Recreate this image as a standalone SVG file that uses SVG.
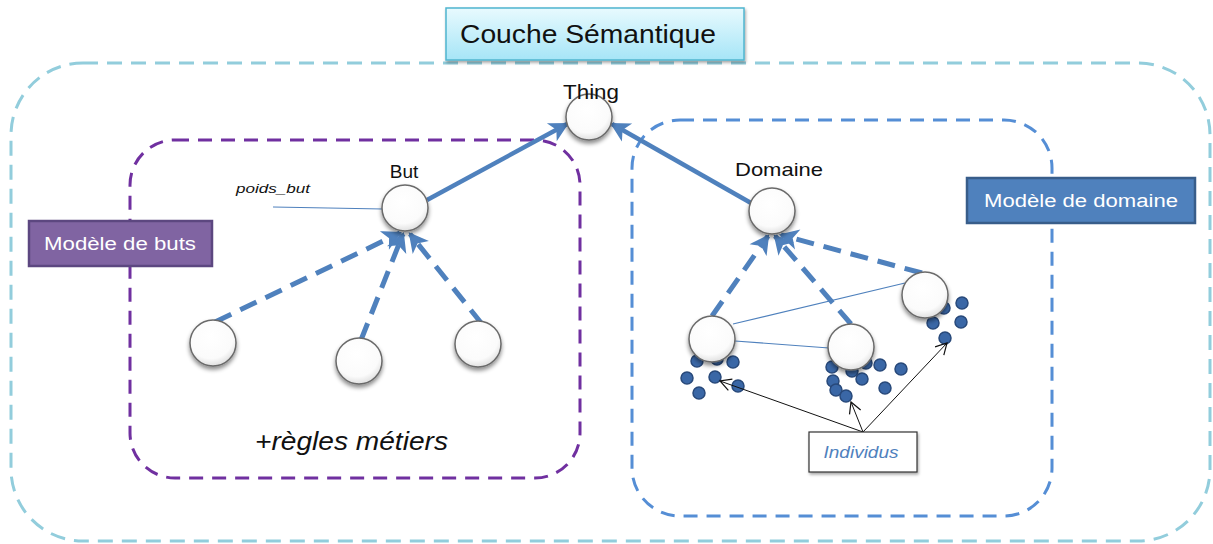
<svg xmlns="http://www.w3.org/2000/svg" width="1213" height="544" viewBox="0 0 1213 544">
<style>
  .lbl { font-family: "Liberation Sans", "DejaVu Sans", sans-serif; fill: #111; }
  .node { fill: url(#nodeGrad); stroke: #6a6a6a; stroke-width: 1.5; filter: url(#shadow); }
  .dot { fill: #3A67A6; stroke: #28497A; stroke-width: 1.5; }
  .solid { stroke: #4F81BD; stroke-width: 4.5; fill: none; marker-end: url(#arrowBlue); }
  .dash { stroke: #4F81BD; stroke-width: 5; fill: none; stroke-dasharray: 18 10; marker-end: url(#arrowBlue); }
  .thin { stroke: #4F81BD; stroke-width: 1.2; fill: none; }
  .black { stroke: #111; stroke-width: 1; fill: none; marker-end: url(#arrowBlack); }
</style>
<defs>
  <radialGradient id="nodeGrad" cx="0.45" cy="0.35" r="0.7">
    <stop offset="0" stop-color="#ffffff"/>
    <stop offset="0.7" stop-color="#fbfbfb"/>
    <stop offset="1" stop-color="#d8d8d8"/>
  </radialGradient>
  <linearGradient id="couchGrad" x1="0" y1="0" x2="0" y2="1">
    <stop offset="0" stop-color="#E8FAFE"/>
    <stop offset="1" stop-color="#A6E5F7"/>
  </linearGradient>
  <filter id="shadow" x="-30%" y="-30%" width="160%" height="170%">
    <feDropShadow dx="0" dy="3" stdDeviation="2" flood-color="#000" flood-opacity="0.45"/>
  </filter>
  <filter id="boxShadow" x="-10%" y="-20%" width="120%" height="150%">
    <feDropShadow dx="1" dy="2" stdDeviation="1.5" flood-color="#000" flood-opacity="0.35"/>
  </filter>
  <marker id="arrowBlue" markerUnits="userSpaceOnUse" markerWidth="24" markerHeight="24" viewBox="0 0 24 24" refX="19" refY="12" orient="auto">
    <path d="M4,4 L19,12 L4,20 L8,12 Z" fill="#4F81BD" stroke="#4F81BD" stroke-width="2" stroke-linejoin="miter"/>
  </marker>
  <marker id="arrowBlack" markerUnits="userSpaceOnUse" markerWidth="16" markerHeight="16" viewBox="0 0 16 16" refX="13" refY="8" orient="auto">
    <path d="M2,2 L13,8 L2,14" fill="none" stroke="#111" stroke-width="1.2"/>
  </marker>
</defs>
<rect width="1213" height="544" fill="#ffffff"/>

<g id="containers">
  <rect id="couche-semantique-area" x="11" y="63" width="1199" height="478" rx="72" ry="72" fill="none" stroke="#92CDDC" stroke-width="3" stroke-dasharray="15 9"/>
  <rect id="modele-buts-area" x="130" y="140" width="450" height="338" rx="45" ry="45" fill="none" stroke="#7030A0" stroke-width="3" stroke-dasharray="14 9"/>
  <rect id="modele-domaine-area" x="632" y="120" width="420" height="396" rx="48" ry="48" fill="none" stroke="#558ED5" stroke-width="3" stroke-dasharray="14 9"/>
</g>

<g id="title-couche">
  <rect x="446" y="8" width="298" height="52" fill="url(#couchGrad)" stroke="#4FB5CF" stroke-width="1.5" filter="url(#boxShadow)"/>
  <text x="460" y="43" class="lbl" font-size="26" textLength="256" lengthAdjust="spacingAndGlyphs">Couche Sémantique</text>
</g>
<g id="label-modele-buts">
  <rect x="29" y="221" width="183" height="45" fill="#8064A2" stroke="#5C4780" stroke-width="2.5"/>
  <text x="120" y="250" font-family="Liberation Sans, DejaVu Sans, sans-serif" font-size="18" fill="#ffffff" text-anchor="middle" textLength="152" lengthAdjust="spacingAndGlyphs">Modèle de buts</text>
</g>
<g id="label-modele-domaine">
  <rect x="967" y="178" width="228" height="45" fill="#4F81BD" stroke="#385D8A" stroke-width="2.5"/>
  <text x="1081" y="207" font-family="Liberation Sans, DejaVu Sans, sans-serif" font-size="18" fill="#ffffff" text-anchor="middle" textLength="194" lengthAdjust="spacingAndGlyphs">Modèle de domaine</text>
</g>

<g id="connectors">
  <line class="solid" x1="427" y1="200" x2="567" y2="124"/>
  <line class="solid" x1="751" y1="203" x2="612" y2="124"/>
  <line class="dash" x1="215" y1="322" x2="400" y2="233"/>
  <line class="dash" x1="361" y1="340" x2="403" y2="234"/>
  <line class="dash" x1="482" y1="324" x2="410" y2="234"/>
  <line class="dash" x1="712" y1="316" x2="768" y2="236"/>
  <line class="dash" x1="851" y1="324" x2="775" y2="236"/>
  <line class="dash" x1="922" y1="273" x2="781" y2="235"/>
  <line class="thin" x1="273" y1="207" x2="383" y2="209"/>
  <line class="thin" x1="733" y1="324" x2="905" y2="283"/>
  <line class="thin" x1="735" y1="341" x2="829" y2="348"/>
</g>

<g id="individuals">
  <circle class="dot" cx="697" cy="361" r="6"/>
  <circle class="dot" cx="717" cy="359" r="6"/>
  <circle class="dot" cx="733" cy="362" r="6"/>
  <circle class="dot" cx="687" cy="378" r="6"/>
  <circle class="dot" cx="715" cy="377" r="6"/>
  <circle class="dot" cx="738" cy="386" r="6"/>
  <circle class="dot" cx="699" cy="393" r="6"/>
  <circle class="dot" cx="832" cy="367" r="6"/>
  <circle class="dot" cx="852" cy="371" r="6"/>
  <circle class="dot" cx="866" cy="363" r="6"/>
  <circle class="dot" cx="862" cy="379" r="6"/>
  <circle class="dot" cx="880" cy="365" r="6"/>
  <circle class="dot" cx="901" cy="369" r="6"/>
  <circle class="dot" cx="885" cy="388" r="6"/>
  <circle class="dot" cx="833" cy="381" r="6"/>
  <circle class="dot" cx="836" cy="390" r="6"/>
  <circle class="dot" cx="846" cy="396" r="6"/>
  <circle class="dot" cx="962" cy="303" r="6"/>
  <circle class="dot" cx="944" cy="308" r="6"/>
  <circle class="dot" cx="933" cy="323" r="6"/>
  <circle class="dot" cx="961" cy="322" r="6"/>
  <circle class="dot" cx="945" cy="338" r="6"/>
</g>

<g id="node-thing">
  <circle class="node" cx="589" cy="117" r="23"/>
  <text x="591" y="99" class="lbl" font-size="21" text-anchor="middle" textLength="56" lengthAdjust="spacingAndGlyphs">Thing</text>
</g>
<g id="node-but">
  <circle class="node" cx="405" cy="208" r="23"/>
  <text x="404" y="178" class="lbl" font-size="19" text-anchor="middle">But</text>
  <text x="236" y="193" class="lbl" font-size="12" font-style="italic" textLength="74" lengthAdjust="spacingAndGlyphs">poids_but</text>
</g>
<g id="node-but-child-1"><circle class="node" cx="213" cy="343" r="23"/></g>
<g id="node-but-child-2"><circle class="node" cx="359" cy="361" r="23"/></g>
<g id="node-but-child-3"><circle class="node" cx="478" cy="344" r="23"/></g>
<g id="node-domaine">
  <circle class="node" cx="772" cy="211" r="23"/>
  <text x="779" y="176" class="lbl" font-size="19" text-anchor="middle" textLength="88" lengthAdjust="spacingAndGlyphs">Domaine</text>
</g>
<g id="node-domaine-child-1"><circle class="node" cx="712" cy="339" r="23"/></g>
<g id="node-domaine-child-2"><circle class="node" cx="851" cy="347" r="23"/></g>
<g id="node-domaine-child-3"><circle class="node" cx="925" cy="295" r="23"/></g>

<g id="regles">
  <text x="255" y="450" class="lbl" font-size="26" font-style="italic" textLength="193" lengthAdjust="spacingAndGlyphs">+règles métiers</text>
</g>

<g id="individus-arrows">
  <line class="black" x1="863" y1="432" x2="720" y2="381"/>
  <line class="black" x1="863" y1="432" x2="851" y2="402"/>
  <line class="black" x1="863" y1="432" x2="947" y2="343"/>
</g>
<g id="node-individus">
  <rect x="809" y="432" width="108" height="40" fill="#ffffff" stroke="#333" stroke-width="1.2" filter="url(#boxShadow)"/>
  <text x="861" y="458" font-family="Liberation Sans, DejaVu Sans, sans-serif" font-size="16" font-style="italic" fill="#4F81BD" text-anchor="middle" textLength="75" lengthAdjust="spacingAndGlyphs">Individus</text>
</g>
</svg>
